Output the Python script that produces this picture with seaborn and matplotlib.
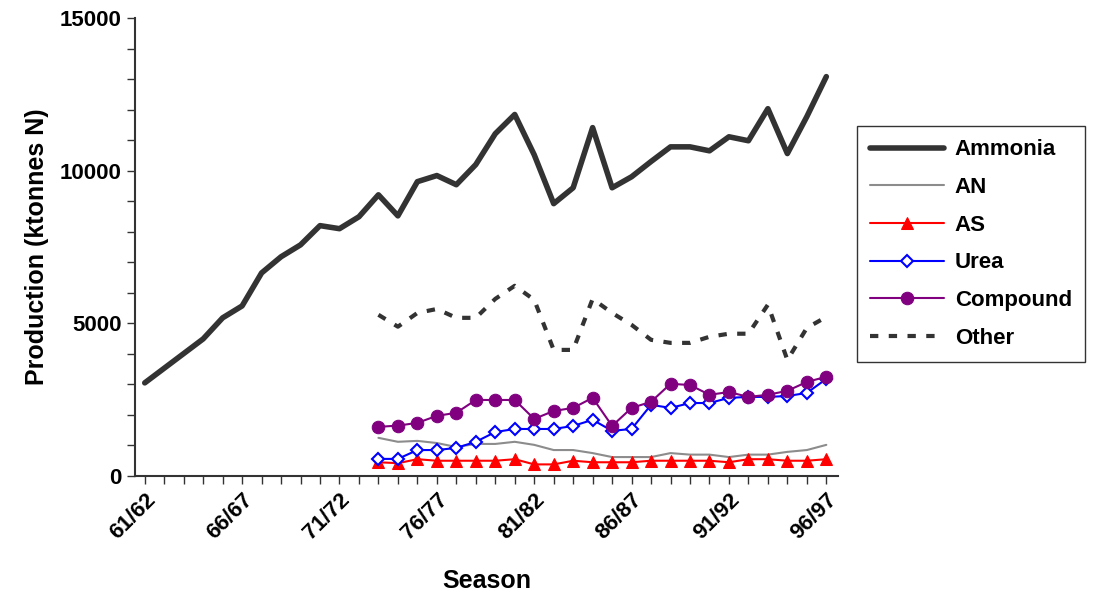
import matplotlib
matplotlib.use("Agg")
import matplotlib.pyplot as plt
import seaborn as sns
import pandas as pd
import numpy as np

sns.set_style("white")
plt.rcParams['font.family'] = ['Liberation Sans', 'DejaVu Sans']
plt.rcParams['text.color'] = 'black'
plt.rcParams['axes.labelcolor'] = 'black'
plt.rcParams['xtick.color'] = 'black'
plt.rcParams['ytick.color'] = 'black'

seasons = [f"{y%100:02d}/{(y+1)%100:02d}" for y in range(61, 97)]
ammonia = [3050, 3530, 4010, 4490, 5180, 5570, 6650, 7180, 7570, 8200, 8100, 8490,
           9210, 8520, 9640, 9840, 9540, 10200, 11210, 11840, 10520, 8920, 9440, 11410,
           9440, 9800, 10300, 10780, 10780, 10650, 11110, 10980, 12030, 10560, 11770, 13080]
other = [5280, 4890, 5340, 5470, 5180, 5180, 5800, 6230, 5770, 4130, 4130, 5800,
         5340, 4950, 4460, 4360, 4360, 4560, 4660, 4660, 5610, 3800, 4850, 5210]
compound = [1610, 1650, 1740, 1970, 2070, 2490, 2490, 2490, 1870, 2130, 2230, 2560,
            1640, 2230, 2430, 3020, 2980, 2660, 2750, 2590, 2660, 2790, 3080, 3250]
urea = [560, 560, 850, 850, 920, 1120, 1440, 1540, 1540, 1540, 1640, 1840,
        1480, 1540, 2330, 2230, 2390, 2390, 2560, 2590, 2590, 2620, 2720, 3180]
an = [1250, 1120, 1150, 1080, 950, 1050, 1050, 1120, 1020, 850, 850, 750,
      620, 620, 620, 750, 700, 700, 620, 700, 700, 790, 850, 1020]
as_ = [450, 420, 550, 500, 500, 500, 500, 550, 380, 380, 500, 450,
       450, 450, 500, 500, 500, 500, 450, 550, 550, 500, 500, 550]

idx = np.arange(len(seasons))
late = idx[12:]

fig = plt.figure(figsize=(10.99, 6.08), dpi=100)
ax = fig.add_axes([135/1099, 1-476/608, (838-135)/1099, (476-18)/608])

sns.lineplot(x=idx, y=ammonia, ax=ax, color='#333333', lw=4, label='Ammonia')
sns.lineplot(x=late, y=an, ax=ax, color='#8c8c8c', lw=1.5, label='AN')
sns.lineplot(x=late, y=as_, ax=ax, color='red', lw=1.5, marker='^', markersize=9,
             markeredgecolor='red', label='AS')
sns.lineplot(x=late, y=urea, ax=ax, color='blue', lw=1.5, marker='D', markersize=6,
             markerfacecolor='white', markeredgecolor='blue', markeredgewidth=1.5, label='Urea')
sns.lineplot(x=late, y=compound, ax=ax, color='purple', lw=1.5, marker='o', markersize=9,
             markeredgecolor='purple', label='Compound')
sns.lineplot(x=late, y=other, ax=ax, color='#333333', lw=3, ls=(0, (2, 2.5)), label='Other')

ax.set_xlim(-0.5, len(seasons) - 0.4)
ax.set_ylim(0, 15000)
ax.set_yticks([0, 5000, 10000, 15000])
ax.set_yticks(np.arange(0, 15001, 1000), minor=True)
ax.set_xticks(idx[::5])
ax.set_xticklabels([seasons[i] for i in idx[::5]], rotation=45, ha='right',
                   rotation_mode='anchor', fontsize=16, fontweight='bold')
ax.set_xticks(idx, minor=True)
for lab in ax.get_yticklabels():
    lab.set_fontsize(16); lab.set_fontweight('bold')
ax.tick_params(axis='both', which='both', direction='out', length=6, width=1, color='#333333',
               bottom=True, left=True)
for s in ['top', 'right']:
    ax.spines[s].set_visible(False)
for s in ['left', 'bottom']:
    ax.spines[s].set_color('#333333'); ax.spines[s].set_linewidth(1.5)
ax.set_xlabel('Season', fontsize=18, fontweight='bold', labelpad=18)
ax.set_ylabel('Production (ktonnes N)', fontsize=18, fontweight='bold', labelpad=8)

leg = ax.legend(loc='upper left', bbox_to_anchor=(857/1099, 1-126/608), bbox_transform=fig.transFigure,
                prop={'size': 16, 'weight': 'bold'}, frameon=True, fancybox=False,
                edgecolor='black', handlelength=3.3, handletextpad=0.5, labelspacing=0.75,
                borderpad=0.6, borderaxespad=0)
leg.get_frame().set_linewidth(1)
fig.savefig('out.png', dpi=100)
